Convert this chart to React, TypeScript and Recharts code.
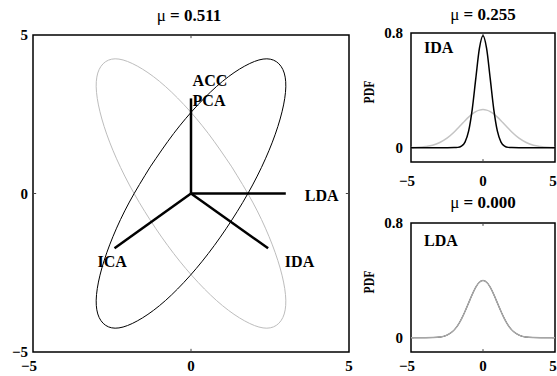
import { ComposedChart, Line, XAxis, YAxis, ReferenceArea, ReferenceLine, Scatter } from "recharts"

const serif = '"Liberation Serif", "Times New Roman", serif'

// main panel: projection directions and the two class ellipses
const mainTicks = [-5, 0, 5]

const blackEllipseX = [-1.29, -1.95, -2.47, -2.82, -2.99, -2.95, -2.7, -2.28, -1.7, -1.0, -0.23, 0.55, 1.29, 1.95, 2.47, 2.82, 2.99, 2.95, 2.7, 2.28, 1.7, 1.0, 0.23, -0.55, -1.29]
const blackEllipseY = [0.84, -0.27, -1.36, -2.35, -3.19, -3.8, -4.16, -4.24, -4.02, -3.54, -2.81, -1.89, -0.84, 0.27, 1.36, 2.35, 3.19, 3.8, 4.16, 4.24, 4.02, 3.54, 2.81, 1.89, 0.84]
const grayEllipseX = [1.29, 1.95, 2.47, 2.82, 2.99, 2.95, 2.7, 2.28, 1.7, 1.0, 0.23, -0.55, -1.29, -1.95, -2.47, -2.82, -2.99, -2.95, -2.7, -2.28, -1.7, -1.0, -0.23, 0.55, 1.29]
const grayEllipseY = [0.84, -0.27, -1.36, -2.35, -3.19, -3.8, -4.16, -4.24, -4.02, -3.54, -2.81, -1.89, -0.84, 0.27, 1.36, 2.35, 3.19, 3.8, 4.16, 4.24, 4.02, 3.54, 2.81, 1.89, 0.84]

const directionNames = ["PCA", "LDA", "ICA", "IDA"]
const directionX = [0, 3.0, -2.42, 2.44]
const directionY = [3.0, 0, -1.73, -1.73]

const labelText = ["ACC", "PCA", "LDA", "ICA", "IDA"]
const labelX = [0.05, 0.05, 3.6, -2.96, 2.97]
const labelY = [3.56, 2.93, -0.05, -2.13, -2.13]

// side panels: projected densities
const pdfTicksX = [-5, 0, 5]
const pdfTicksY = [0, 0.8]
const pdfX = [-5, -4.5, -4, -3.5, -3, -2.5, -2, -1.75, -1.5, -1.25, -1, -0.75, -0.5, -0.25, 0, 0.25, 0.5, 0.75, 1, 1.25, 1.5, 1.75, 2, 2.5, 3, 3.5, 4, 4.5, 5]
const idaGray = [0.001, 0.003, 0.008, 0.017, 0.036, 0.066, 0.109, 0.135, 0.161, 0.188, 0.213, 0.235, 0.252, 0.262, 0.266, 0.262, 0.252, 0.235, 0.213, 0.188, 0.161, 0.135, 0.109, 0.066, 0.036, 0.017, 0.008, 0.003, 0.001]
const idaBlack = [0, 0, 0, 0, 0, 0, 0.0004, 0.002, 0.011, 0.039, 0.115, 0.266, 0.483, 0.692, 0.78, 0.692, 0.483, 0.266, 0.115, 0.039, 0.011, 0.002, 0.0004, 0, 0, 0, 0, 0, 0]
const ldaGray = [0, 0, 0.0001, 0.001, 0.004, 0.018, 0.054, 0.086, 0.13, 0.183, 0.242, 0.301, 0.352, 0.387, 0.399, 0.387, 0.352, 0.301, 0.242, 0.183, 0.13, 0.086, 0.054, 0.018, 0.004, 0.001, 0.0001, 0, 0]
const ldaBlack = [0, 0, 0.0001, 0.001, 0.004, 0.018, 0.054, 0.086, 0.13, 0.183, 0.242, 0.301, 0.352, 0.387, 0.399, 0.387, 0.352, 0.301, 0.242, 0.183, 0.13, 0.086, 0.054, 0.018, 0.004, 0.001, 0.0001, 0, 0]

const zip = (xs: number[], ys: number[]) => xs.map((x, i) => ({ x, y: ys[i] }))

const fmt = (v: number) => (v < 0 ? `\u2212${Math.abs(v)}` : `${v}`)

const tickFont = { fontFamily: serif, fontSize: 15, fontWeight: 700, fill: "#000" }

function XTick({ x, y, payload }: any) {
  const neg = payload.value < 0
  return (
    <text x={neg ? x + 4 : x} y={y} dy="0.71em" textAnchor={neg ? "end" : "middle"} {...tickFont}>
      {fmt(payload.value)}
    </text>
  )
}

function TextMark({ cx, cy, payload }: any) {
  return (
    <text x={cx} y={cy} dy="0.35em" textAnchor="start" fontFamily={serif} fontSize={16} fontWeight={700} fill="#000">
      {payload.name}
    </text>
  )
}

function Title({ x, y, value }: { x: number; y: number; value: string }) {
  return (
    <div style={{ position: "absolute", left: x - 60, top: y - 10, width: 120, height: 20, lineHeight: "20px", textAlign: "center", fontFamily: serif, fontSize: 17, fontWeight: 700 }}>
      <span style={{ fontWeight: 400 }}>μ</span> = {value}
    </div>
  )
}

function PdfLabel({ x, y }: { x: number; y: number }) {
  return (
    <div style={{ position: "absolute", left: x - 20, top: y - 8, width: 40, height: 16, lineHeight: "16px", textAlign: "center", transform: "rotate(-90deg) scaleX(0.78)", fontFamily: serif, fontSize: 15, fontWeight: 700 }}>
      PDF
    </div>
  )
}

function MainPanel() {
  const inner = mainTicks.filter((t) => t !== -5 && t !== 5)
  return (
    <ComposedChart width={360} height={376} margin={{ top: 35, right: 11, bottom: 0, left: 5 }}>
      <XAxis dataKey="x" type="number" domain={[-5, 5]} ticks={mainTicks} allowDataOverflow axisLine={false} tickLine={false} tickSize={0} tickMargin={8} height={24} tick={<XTick />} />
      <YAxis type="number" domain={[-5, 5]} ticks={mainTicks} allowDataOverflow axisLine={false} tickLine={false} tickSize={0} tickMargin={5} width={28} tick={tickFont} tickFormatter={fmt} />
      <ReferenceArea x1={-5} x2={5} y1={-5} y2={5} fill="none" stroke="#000" strokeWidth={1.5} />
      {inner.map((t) => (
        <ReferenceLine key={`tx${t}`} segment={[{ x: t, y: 5 }, { x: t, y: 4.9 }]} stroke="#444" />
      ))}
      {inner.map((t) => (
        <ReferenceLine key={`bx${t}`} segment={[{ x: t, y: -5 }, { x: t, y: -4.9 }]} stroke="#444" />
      ))}
      {inner.map((t) => (
        <ReferenceLine key={`ly${t}`} segment={[{ x: -5, y: t }, { x: -4.9, y: t }]} stroke="#444" />
      ))}
      {inner.map((t) => (
        <ReferenceLine key={`ry${t}`} segment={[{ x: 5, y: t }, { x: 4.9, y: t }]} stroke="#444" />
      ))}
      <Line data={zip(grayEllipseX, grayEllipseY)} dataKey="y" type="natural" stroke="#bdbdbd" strokeWidth={1} dot={false} activeDot={false} isAnimationActive={false} />
      <Line data={zip(blackEllipseX, blackEllipseY)} dataKey="y" type="natural" stroke="#000" strokeWidth={1} dot={false} activeDot={false} isAnimationActive={false} />
      {directionNames.map((n, i) => (
        <Line key={n} data={[{ x: 0, y: 0 }, { x: directionX[i], y: directionY[i] }]} dataKey="y" type="linear" stroke="#000" strokeWidth={2.5} dot={false} activeDot={false} isAnimationActive={false} />
      ))}
      <Scatter data={labelText.map((name, i) => ({ name, x: labelX[i], y: labelY[i] }))} dataKey="y" shape={<TextMark />} isAnimationActive={false} />
    </ComposedChart>
  )
}

function PdfPanel({ gray, black, grayColor, grayOnTop, label, labelPos, height, xAxisHeight, tickMargin }: any) {
  const rows = pdfX.map((x, i) => ({ x, gray: gray[i], black: black[i] }))
  const grayLine = <Line key="g" dataKey="gray" type="monotone" stroke={grayColor} strokeWidth={1.5} dot={false} activeDot={false} isAnimationActive={false} />
  const blackLine = <Line key="b" dataKey="black" type="monotone" stroke="#000" strokeWidth={grayOnTop ? 1 : 1.5} dot={false} activeDot={false} isAnimationActive={false} />
  return (
    <ComposedChart width={207} height={height} data={rows} margin={{ top: 33, right: 2, bottom: 0, left: 0 }}>
      <XAxis dataKey="x" type="number" domain={[-5, 5]} ticks={pdfTicksX} allowDataOverflow axisLine={false} tickLine={false} tickSize={0} tickMargin={tickMargin} height={xAxisHeight} tick={<XTick />} />
      <YAxis type="number" domain={[-0.1, 0.8]} ticks={pdfTicksY} allowDataOverflow axisLine={false} tickLine={false} tickSize={0} tickMargin={8} width={61} tick={tickFont} tickFormatter={fmt} />
      <ReferenceArea x1={-5} x2={5} y1={-0.1} y2={0.8} fill="none" stroke="#000" strokeWidth={1.5} />
      <ReferenceLine segment={[{ x: 0, y: 0.8 }, { x: 0, y: 0.78 }]} stroke="#444" />
      <ReferenceLine segment={[{ x: 0, y: -0.1 }, { x: 0, y: -0.08 }]} stroke="#444" />
      <ReferenceLine segment={[{ x: -5, y: 0 }, { x: -4.8, y: 0 }]} stroke="#444" />
      <ReferenceLine segment={[{ x: 5, y: 0 }, { x: 4.8, y: 0 }]} stroke="#444" />
      {grayOnTop ? [blackLine, grayLine] : [grayLine, blackLine]}
      <Scatter data={[{ name: label, x: labelPos[0], y: labelPos[1] }]} dataKey="y" shape={<TextMark />} isAnimationActive={false} />
    </ComposedChart>
  )
}

export default function App() {
  return (
    <div style={{ position: "absolute", left: 0, top: 0, width: 557, height: 376, background: "#fff", overflow: "hidden" }}>
      <div style={{ position: "absolute", left: 0, top: 0 }}>
        <MainPanel />
      </div>
      <div style={{ position: "absolute", left: 350, top: 0 }}>
        <PdfPanel gray={idaGray} black={idaBlack} grayColor="#c4c4c4" grayOnTop={false} label="IDA" labelPos={[-4.1, 0.7]} height={190} xAxisHeight={28} tickMargin={13} />
      </div>
      <div style={{ position: "absolute", left: 350, top: 190 }}>
        <PdfPanel gray={ldaGray} black={ldaBlack} grayColor="#a6a6a6" grayOnTop={true} label="LDA" labelPos={[-4.1, 0.68]} height={186} xAxisHeight={24} tickMargin={8} />
      </div>
      <Title x={189} y={16} value="0.511" />
      <Title x={483} y={15} value="0.255" />
      <Title x={483} y={203} value="0.000" />
      <PdfLabel x={369} y={92} />
      <PdfLabel x={369} y={282} />
    </div>
  )
}
